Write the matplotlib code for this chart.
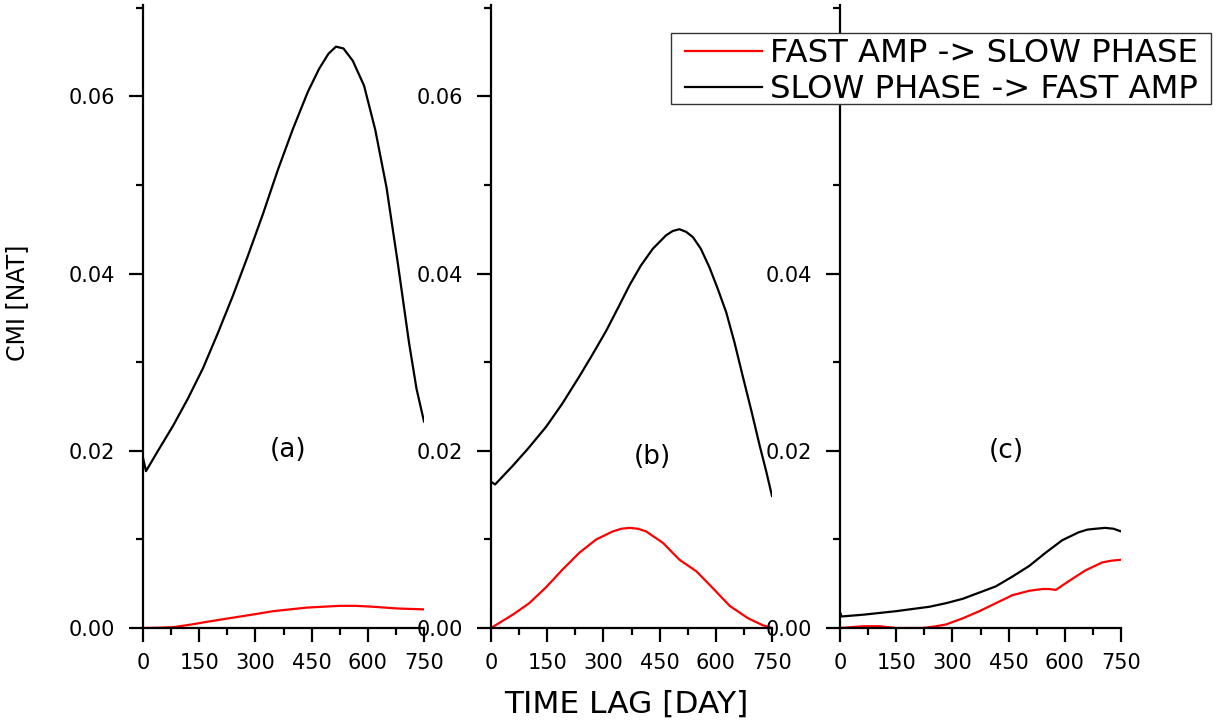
import numpy as np
import matplotlib.pyplot as plt
from matplotlib.patches import Rectangle
from matplotlib.ticker import MultipleLocator, FormatStrFormatter

# Data (time lag in days, CMI in nats)
days_a_slow = [0, 8, 40, 80, 120, 160, 200, 240, 280, 320, 360, 400, 440, 470,
               495, 515, 535, 560, 590, 620, 650, 680, 710, 730, 750]
cmi_a_slow = [0.0192, 0.0177, 0.0200, 0.0228, 0.0259, 0.0293, 0.0333, 0.0375,
              0.0420, 0.0467, 0.0517, 0.0563, 0.0605, 0.0631, 0.0648, 0.0656,
              0.0654, 0.0640, 0.0612, 0.0562, 0.0497, 0.0412, 0.0322, 0.0270,
              0.0233]
days_a_fast = [0, 40, 82, 130, 171, 215, 260, 305, 348, 392, 437, 480, 525,
               570, 613, 680, 750]
cmi_a_fast = [0.0, 0.00003, 0.0001, 0.0004, 0.0007, 0.0010, 0.0013, 0.0016,
              0.0019, 0.0021, 0.0023, 0.0024, 0.0025, 0.0025, 0.0024, 0.0022,
              0.0021]

days_b_slow = [0, 11, 58, 100, 147, 190, 236, 270, 307, 340, 370, 400, 432,
               467, 485, 503, 521, 539, 560, 583, 605, 628, 650, 672, 695, 717,
               735, 750]
cmi_b_slow = [0.0165, 0.0162, 0.0183, 0.0203, 0.0227, 0.0253, 0.0284, 0.0308,
              0.0335, 0.0362, 0.0387, 0.0409, 0.0428, 0.0443, 0.0448, 0.0450,
              0.0447, 0.0441, 0.0428, 0.0407, 0.0383, 0.0356, 0.0322, 0.0284,
              0.0245, 0.0206, 0.0176, 0.0149]
days_b_fast = [0, 58, 102, 147, 191, 236, 281, 325, 348, 370, 392, 414, 459,
               503, 548, 592, 637, 686, 726, 750]
cmi_b_fast = [0.0, 0.0015, 0.0028, 0.0046, 0.0066, 0.0085, 0.0100, 0.0109,
              0.0112, 0.0113, 0.0112, 0.0109, 0.0096, 0.0077, 0.0064, 0.0045,
              0.0025, 0.0011, 0.0003, 0.0]

days_c_slow = [0, 4, 62, 150, 239, 283, 328, 372, 416, 460, 505, 549, 593,
               637, 660, 682, 708, 730, 750]
cmi_c_slow = [0.0018, 0.0013, 0.0015, 0.0019, 0.0024, 0.0028, 0.0033, 0.0040,
              0.0047, 0.0058, 0.0070, 0.0085, 0.0099, 0.0108, 0.0111, 0.0112,
              0.0113, 0.0112, 0.0109]
days_c_fast = [0, 62, 106, 150, 221, 257, 283, 328, 372, 416, 460, 505, 540,
               558, 576, 611, 655, 700, 725, 750]
cmi_c_fast = [0.0, 0.0002, 0.0002, 0.0, 0.0, 0.0002, 0.0004, 0.0011, 0.0019,
              0.0028, 0.0037, 0.0042, 0.0044, 0.0044, 0.0043, 0.0053, 0.0065,
              0.0074, 0.0076, 0.0077]

panels = [
    ("(a)", days_a_fast, cmi_a_fast, days_a_slow, cmi_a_slow, (387, 0.0201)),
    ("(b)", days_b_fast, cmi_b_fast, days_b_slow, cmi_b_slow, (430, 0.0193)),
    ("(c)", days_c_fast, cmi_c_fast, days_c_slow, cmi_c_slow, (443, 0.0200)),
]

plt.rcParams['font.family'] = 'DejaVu Sans'

W, H = 1222, 720
fig = plt.figure(figsize=(W / 100, H / 100), dpi=100)

lefts = [143 / W, 491 / W, 840 / W]
width = 281 / W
bottom = 92 / H
height = 623 / H

lines = []
for left, (tag, xf, yf, xs, ys, pos) in zip(lefts, panels):
    ax = fig.add_axes([left, bottom, width, height])
    ax.patch.set_alpha(0)
    lf, = ax.plot(xf, yf, color='red', lw=1.6)
    ls, = ax.plot(xs, ys, color='black', lw=1.6)
    lines = [lf, ls]
    ax.text(pos[0], pos[1], tag, fontsize=19, ha='center', va='center')

    ax.set_xlim(0, 750)
    ax.set_ylim(0, 0.0703)
    for s in ['top', 'right']:
        ax.spines[s].set_visible(False)
    for s in ['left', 'bottom']:
        ax.spines[s].set_linewidth(1.6)

    ax.xaxis.set_major_locator(MultipleLocator(150))
    ax.xaxis.set_minor_locator(MultipleLocator(75))
    ax.yaxis.set_major_locator(MultipleLocator(0.02))
    ax.yaxis.set_minor_locator(MultipleLocator(0.01))
    ax.yaxis.set_major_formatter(FormatStrFormatter('%.2f'))
    ax.tick_params(which='major', direction='out', length=10, width=1.6,
                   labelsize=15)
    ax.tick_params(axis='x', which='major', pad=8)
    ax.tick_params(axis='y', which='major', pad=10)
    ax.tick_params(which='minor', direction='out', length=5, width=1.6)

# legend frame drawn separately so the padding can match the reference
frame = Rectangle((671 / W, 1 - 104 / H), 540 / W, 71 / H,
                  transform=fig.transFigure, facecolor='white',
                  edgecolor='#333333', lw=1, zorder=4)
fig.patches.append(frame)

fig.legend(lines, ['FAST AMP -> SLOW PHASE', 'SLOW PHASE -> FAST AMP'],
           loc='upper left', bbox_to_anchor=(685 / W, 1 - 38 / H),
           fontsize=23.2, frameon=False, borderpad=0, labelspacing=0.15,
           handlelength=2.4, handletextpad=0.25, borderaxespad=0)

fig.text(17 / W, 1 - 303 / H, 'CMI [NAT]', rotation=90, fontsize=17,
         ha='center', va='center')
fig.text(626 / W, 1 - 704 / H, 'TIME LAG [DAY]', fontsize=22.5,
         ha='center', va='center')

fig.savefig('out.png', dpi=100)
